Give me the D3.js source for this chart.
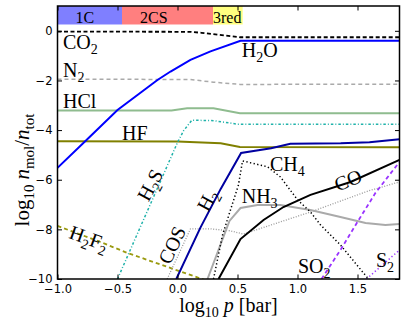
<!DOCTYPE html>
<html>
<head>
<meta charset="utf-8">
<script src="https://cdn.jsdelivr.net/npm/d3@7/dist/d3.min.js"></script>
<style>
  body { margin: 0; background: #fff; }
  text { font-family: "Liberation Serif", "DejaVu Serif", serif; }
  .tick text { font-family: "DejaVu Sans", sans-serif; }
</style>
</head>
<body>
<svg id="canvas" width="407" height="326"></svg>
<script>
"use strict";

// axis ticks
const xTicks = [-1.0, -0.5, 0.0, 0.5, 1.0, 1.5];
const yTicks = [0, -2, -4, -6, -8, -10];

// regimes along the top
const regionNames = ["1C", "2CS", "3red"];
const regionStart = [-1.0, -0.4625, 0.296];
const regionEnd = [-0.4625, 0.296, 0.543];

// log10 abundances
const co2X = [-1.0, 0.1, 0.2, 0.52, 1.85];
const co2Y = [-0.03, -0.04, -0.08, -0.26, -0.26];
const n2X = [-1.0, 0.1, 0.3, 0.52, 1.85];
const n2Y = [-1.95, -1.96, -2.07, -2.16, -2.15];
const hclX = [-1.0, -0.05, 0.08, 0.3, 0.52, 1.85];
const hclY = [-3.21, -3.21, -3.12, -3.12, -3.32, -3.32];
const hfX = [-1.0, 0.0, 0.36, 0.52, 1.85];
const hfY = [-4.45, -4.46, -4.53, -4.68, -4.69];
const h2oX = [-1.0, -0.767, -0.5, -0.167, -0.058, 0.108, 0.275, 0.525, 1.85];
const h2oY = [-5.52, -4.44, -3.19, -1.98, -1.64, -1.17, -0.83, -0.40, -0.40];
const h2sX = [-0.5, 0.0, 0.05, 0.12, 0.3, 0.5, 1.85];
const h2sY = [-10.0, -4.5, -4.03, -3.6, -3.62, -3.76, -3.76];
const h2X = [-0.01, 0.19, 0.36, 0.53, 0.78, 0.94, 1.36, 1.6, 1.85];
const h2Y = [-10.0, -7.94, -6.37, -4.92, -4.73, -4.55, -4.53, -4.49, -4.37];
const ch4X = [0.3, 0.375, 0.508, 0.542, 0.75, 0.858, 1.0, 1.108, 1.192, 1.358, 1.55, 1.592];
const ch4Y = [-10.0, -8.23, -6.21, -5.24, -5.48, -5.89, -6.81, -7.30, -7.82, -8.63, -9.76, -10.0];
const nh3X = [0.25, 0.433, 0.525, 0.667, 0.858, 1.108, 1.358, 1.567, 1.733, 1.85];
const nh3Y = [-10.0, -7.66, -7.14, -7.02, -7.02, -7.22, -7.50, -7.74, -7.82, -7.78];
const cosX = [-0.086, 0.108, 0.275, 0.442, 0.55, 1.108, 1.592, 1.85];
const cosY = [-10.0, -7.98, -7.98, -8.06, -8.19, -7.30, -6.45, -6.09];
const coX = [0.342, 0.525, 0.717, 0.883, 1.108, 1.442, 1.85];
const coY = [-10.0, -8.39, -7.62, -7.10, -6.61, -6.09, -5.20];
const so2X = [1.2, 1.358, 1.5, 1.65, 1.85];
const so2Y = [-10.0, -8.83, -7.70, -6.53, -5.28];
const s2X = [1.575, 1.85];
const s2Y = [-10.0, -8.83];
const h2f2X = [-1.0, -0.642, -0.417, 0.192, 0.25];
const h2f2Y = [-7.86, -8.51, -8.95, -9.98, -10.08];

const margin = { left: 57.5, right: 7.5, top: 6, bottom: 47 };
const width = 407, height = 326;

const x = d3.scaleLinear().domain([-1, 1.85]).range([margin.left, width - margin.right]);
const y = d3.scaleLinear().domain([-10, 1]).range([height - margin.bottom, margin.top]);

const svg = d3.select('#canvas');

svg.append('defs').append('clipPath').attr('id', 'plot-clip')
    .append('rect')
    .attr('x', x(-1)).attr('y', y(1))
    .attr('width', x(1.85) - x(-1)).attr('height', y(-10) - y(1));

// regime band
const bandColors = ["#7f7fff", "#ff7f7f", "#ffff7f"];
svg.selectAll('rect.band')
    .data(regionNames)
    .enter()
    .append('rect')
    .attr('class', 'band')
    .attr('x', (d, i) => x(regionStart[i]))
    .attr('width', (d, i) => x(regionEnd[i]) - x(regionStart[i]))
    .attr('y', y(1))
    .attr('height', y(0.255) - y(1))
    .attr('fill', (d, i) => bandColors[i]);

svg.selectAll('text.band')
    .data(regionNames)
    .enter()
    .append('text')
    .attr('class', 'band')
    .attr('x', (d, i) => i === 2 ? x(regionStart[i]) : x(regionStart[i]) + 18)
    .attr('y', y(0.335))
    .attr('font-size', 16)
    .text(d => d);

// species
const species = [
    { xs: co2X, ys: co2Y, color: "#000", width: 1.8, dash: "4,2.5" },
    { xs: n2X, ys: n2Y, color: "#aaa", width: 1.5, dash: "4,3" },
    { xs: hclX, ys: hclY, color: "#8fbc8f", width: 2, dash: null },
    { xs: hfX, ys: hfY, color: "#808000", width: 2, dash: null },
    { xs: h2sX, ys: h2sY, color: "#20b2aa", width: 1.5, dash: "2.5,2,1,2" },
    { xs: h2f2X, ys: h2f2Y, color: "#9a9a10", width: 1.8, dash: "4,3" },
    { xs: cosX, ys: cosY, color: "#999", width: 1.3, dash: "1,1.6" },
    { xs: nh3X, ys: nh3Y, color: "#aaa", width: 2, dash: null },
    { xs: ch4X, ys: ch4Y, color: "#000", width: 1.5, dash: "1.3,2.4" },
    { xs: coX, ys: coY, color: "#000", width: 2, dash: null },
    { xs: so2X, ys: so2Y, color: "#9933ff", width: 1.8, dash: "4,3" },
    { xs: s2X, ys: s2Y, color: "#9933ff", width: 1.5, dash: "1.3,2.4" },
    { xs: h2X, ys: h2Y, color: "#0000a0", width: 2, dash: null },
    { xs: h2oX, ys: h2oY, color: "#0000ff", width: 2, dash: null }
];

const line = d3.line().x(d => x(d[0])).y(d => y(d[1]));

svg.append('g')
    .attr('clip-path', 'url(#plot-clip)')
    .selectAll('path')
    .data(species)
    .enter()
    .append('path')
    .attr('d', s => line(s.xs.map((v, i) => [v, s.ys[i]])))
    .attr('fill', 'none')
    .attr('stroke', s => s.color)
    .attr('stroke-width', s => s.width)
    .attr('stroke-dasharray', s => s.dash);

// labels: [main, subscript, tail, x, y, rotation]
const labels = [
    ["CO", "2", "", -0.954, -0.73, 0],
    ["N", "2", "", -0.954, -1.86, 0],
    ["HCl", "", "", -0.954, -3.11, 0],
    ["HF", "", "", -0.4625, -4.40, 0],
    ["H", "2", "O", 0.535, -1.05, 0],
    ["CH", "4", "", 0.771, -5.65, 0],
    ["NH", "3", "", 0.535, -6.94, 0],
    ["SO", "2", "", 1.004, -9.76, 0],
    ["S", "2", "", 1.654, -9.52, 0],
    ["CO", "", "", 1.42, -6.01, -22],
    ["H", "2", "S", -0.229, -6.21, -62],
    ["H", "2", "", 0.246, -6.82, -62],
    ["COS", "", "", -0.046, -8.63, -65],
    ["H", "2", "F", -0.7375, -8.35, 20]
];

labels.forEach(([main, sub, tail, lx, ly, rot]) => {
    const t = svg.append('text')
        .attr('font-size', 20)
        .attr('transform', rot === 0
            ? `translate(${x(lx)},${y(ly)})`
            : `translate(${x(lx)},${y(ly)}) rotate(${rot})`)
        .attr('text-anchor', rot === 0 ? 'start' : 'middle')
        .attr('dy', rot === 0 ? 0 : '0.35em');
    t.append('tspan').text(main);
    if (sub) t.append('tspan').attr('font-size', 14).attr('dy', 5).text(sub);
    if (tail) t.append('tspan').attr('dy', -5).text(tail);
    if (main === "H" && tail === "F") t.append('tspan').attr('font-size', 14).attr('dy', 5).text("2");
});

// axes
const fmtX = d => d3.format(".1f")(d).replace("-", "\u2212");
const fmtY = d => d3.format("d")(d).replace("-", "\u2212");

const xAxis = svg.append('g')
    .attr('transform', `translate(0,${y(-10)})`)
    .call(d3.axisBottom(x).tickValues(xTicks).tickFormat(fmtX).tickSizeInner(-4.5).tickSizeOuter(0).tickPadding(6));
const xTop = svg.append('g')
    .attr('transform', `translate(0,${y(1)})`)
    .call(d3.axisTop(x).tickValues(xTicks).tickFormat('').tickSizeInner(-4.5).tickSizeOuter(0));
const yAxis = svg.append('g')
    .attr('transform', `translate(${x(-1)},0)`)
    .call(d3.axisLeft(y).tickValues(yTicks).tickFormat(fmtY).tickSizeInner(-4.5).tickSizeOuter(0).tickPadding(5));
const yRight = svg.append('g')
    .attr('transform', `translate(${x(1.85)},0)`)
    .call(d3.axisRight(y).tickValues(yTicks).tickFormat('').tickSizeInner(-4.5).tickSizeOuter(0));

[xAxis, xTop, yAxis, yRight].forEach(g => {
    g.select('.domain').remove();
    g.selectAll('.tick line').attr('stroke', '#000').attr('stroke-width', 1);
    g.selectAll('.tick text').attr('font-size', 11.5).attr('fill', '#000');
});

svg.append('rect')
    .attr('x', x(-1)).attr('y', y(1))
    .attr('width', x(1.85) - x(-1)).attr('height', y(-10) - y(1))
    .attr('fill', 'none').attr('stroke', '#000').attr('stroke-width', 1.5);

// axis titles
const xLabel = svg.append('text')
    .attr('x', (x(-1) + x(1.85)) / 2).attr('y', 312)
    .attr('text-anchor', 'middle').attr('font-size', 20);
xLabel.append('tspan').text('log');
xLabel.append('tspan').attr('font-size', 14).attr('dy', 5).text('10');
xLabel.append('tspan').attr('dy', -5).attr('dx', 5).attr('font-style', 'italic').text('p ');
xLabel.append('tspan').text('[bar]');

const yLabel = svg.append('text')
    .attr('transform', `translate(29,170) rotate(-90)`)
    .attr('text-anchor', 'middle').attr('font-size', 21);
yLabel.append('tspan').text('log');
yLabel.append('tspan').attr('font-size', 15).attr('dy', 5).text('10');
yLabel.append('tspan').attr('dy', -5).attr('dx', 5).attr('font-style', 'italic').text('n');
yLabel.append('tspan').attr('font-size', 15).attr('dy', 5).text('mol');
yLabel.append('tspan').attr('dy', -5).text('/');
yLabel.append('tspan').attr('font-style', 'italic').text('n');
yLabel.append('tspan').attr('font-size', 15).attr('dy', 5).text('tot');
</script>
</body>
</html>
